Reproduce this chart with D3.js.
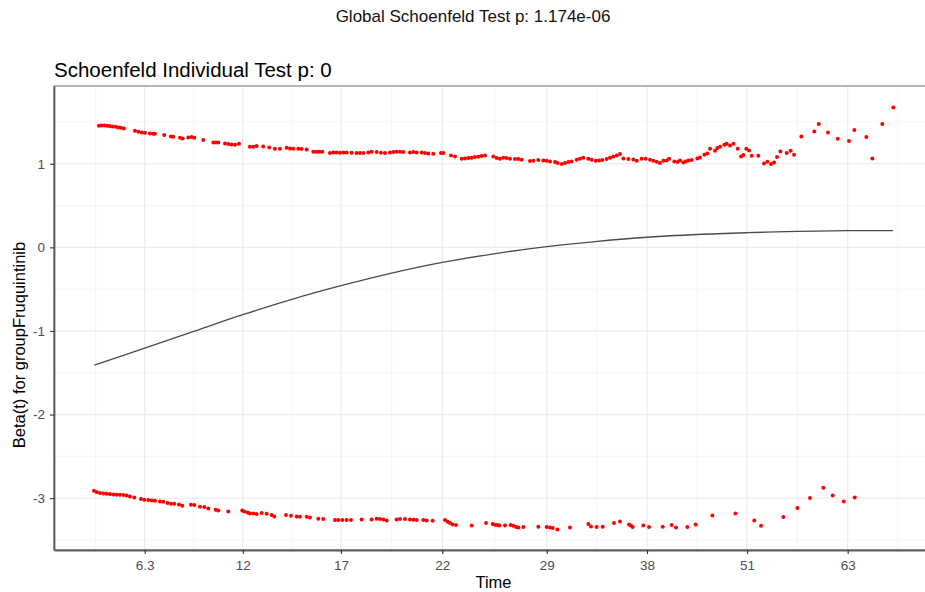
<!DOCTYPE html>
<html>
<head>
<meta charset="utf-8">
<script src="https://cdn.jsdelivr.net/npm/d3@7"></script>
<style>
  body { margin: 0; background: #fff; }
  svg { display: block; font-family: "Liberation Sans", Arial, sans-serif; }
  .line { fill: none; stroke: #4a4a4a; stroke-width: 1.3; }
</style>
</head>
<body>
<svg width="925" height="592"></svg>
<script>
// x is the transformed time (0..1), ticks carry the original time labels
var xTickVals = [0.0635, 0.1863, 0.3091, 0.4359, 0.5667, 0.6921, 0.8173, 0.9432];
var xTickLabels = ["6.3", "12", "17", "22", "29", "38", "51", "63"];
var yTickVals = [-3, -2, -1, 0, 1];

// smoothed beta(t)
var fitX = [0.0006, 0.0635, 0.1248, 0.1862, 0.2477, 0.3091, 0.3725, 0.4359, 0.5006,
    0.5667, 0.6302, 0.6921, 0.7547, 0.8173, 0.8798, 0.9432, 1.0];
var fitY = [-1.41, -1.205, -1.005, -0.806, -0.622, -0.459, -0.308, -0.18, -0.077,
    0.009, 0.072, 0.121, 0.154, 0.175, 0.19, 0.199, 0.2];

// scaled schoenfeld residuals, upper band
var residUpper = [
    [0.0063,1.4545],[0.0096,1.4585],[0.0129,1.4585],[0.0163,1.4545],[0.0196,1.4506],[0.0229,1.4466],
    [0.0271,1.4426],[0.0305,1.4346],[0.0338,1.4306],[0.0375,1.4226],[0.0513,1.3947],[0.0555,1.3828],
    [0.0597,1.3748],[0.0638,1.3708],[0.0701,1.3628],[0.0743,1.3589],[0.0763,1.3589],[0.088,1.343],
    [0.0964,1.327],[0.0993,1.323],[0.1076,1.311],[0.111,1.303],[0.1181,1.315],[0.1222,1.319],
    [0.1256,1.311],[0.1368,1.283],[0.1494,1.255],[0.1527,1.255],[0.1556,1.255],[0.164,1.243],
    [0.1681,1.235],[0.1723,1.231],[0.1765,1.227],[0.1815,1.239],[0.1952,1.203],[0.1994,1.203],
    [0.2036,1.211],[0.2119,1.207],[0.2194,1.195],[0.2265,1.179],[0.2328,1.179],[0.2411,1.191],
    [0.2453,1.183],[0.2495,1.179],[0.2557,1.179],[0.2599,1.175],[0.2662,1.171],[0.2745,1.144],
    [0.2787,1.144],[0.282,1.144],[0.2858,1.144],[0.2954,1.128],[0.2995,1.136],[0.3037,1.136],
    [0.3079,1.132],[0.3121,1.136],[0.3162,1.136],[0.3225,1.132],[0.3287,1.128],[0.3329,1.128],
    [0.3371,1.128],[0.3433,1.136],[0.3475,1.144],
    [0.3538,1.1396],[0.3592,1.1316],[0.3642,1.1276],[0.3705,1.1356],[0.3746,1.1396],[0.3788,1.1435],
    [0.383,1.1435],[0.3872,1.1396],[0.3955,1.1356],[0.3997,1.1396],[0.4038,1.1356],[0.4101,1.1356],
    [0.4143,1.1276],[0.4184,1.1236],[0.4247,1.1196],[0.4343,1.1276],[0.4372,1.1276],[0.4468,1.0997],
    [0.4518,1.0877],[0.4602,1.0598],[0.4643,1.0638],[0.4685,1.0678],[0.4727,1.0718],[0.4768,1.0798],
    [0.481,1.0837],[0.4852,1.0917],[0.4894,1.0997],[0.4998,1.0877],[0.504,1.0678],[0.5081,1.0598],
    [0.5123,1.0718],[0.5165,1.0678],[0.5207,1.0598],[0.5269,1.0558],[0.5311,1.0558],[0.5353,1.0478],
    [0.5457,1.0319],[0.5499,1.0359],[0.5561,1.0439],[0.5624,1.0399],[0.5665,1.0359],[0.5707,1.0279],
    [0.577,1.0199],[0.5803,1.008],[0.5853,0.996],[0.5895,1.008],[0.5937,1.0199],[0.5978,1.0279],
    [0.6041,1.0478],[0.6083,1.0598],[0.6124,1.0718],[0.6187,1.0598],[0.6229,1.0478],[0.6279,1.0359],
    [0.632,1.0399],[0.6362,1.0439],[0.6416,1.0558],[0.6458,1.0718],[0.65,1.0877],[0.6542,1.0997],
    [0.6583,1.1156],[0.6625,1.0638],[0.6688,1.0558],[0.675,1.0518],[0.6792,1.0359],[0.6854,1.0598],
    [0.6904,1.0598],[0.6959,1.0478],[0.7,1.0359],[0.7042,1.0239],[0.7084,1.008],[0.7126,1.0359],
    [0.7167,1.0399],[0.7197,1.0598],[0.7263,1.0279],[0.7305,1.0199],[0.7334,1.0399],[0.7376,1.0159],
    [0.7405,1.0279],[0.7438,1.0399],[0.748,1.0439],[0.7551,1.0638],[0.7584,1.0757],[0.7639,1.1077],
    [0.7676,1.1236],[0.771,1.1794],[0.7772,1.1555],[0.7801,1.1874],[0.7835,1.2033],[0.7889,1.2273],
    [0.7918,1.2392],[0.796,1.2193],[0.8002,1.2392],[0.8056,1.1794],[0.8098,1.0877],[0.8127,1.1037],
    [0.8164,1.1794],[0.8198,1.1595],[0.8231,1.0957],[0.8314,1.0957],[0.8385,1.004],[0.8427,1.0239],
    [0.8473,0.996],[0.8511,1.0159],[0.8548,1.0797],[0.859,1.1475],[0.8669,1.1276],[0.8719,1.1555],
    [0.8761,1.1077],[0.8853,1.327],[0.9015,1.3868],[0.907,1.4745],[0.9186,1.3748],[0.9308,1.299],
    [0.9449,1.2711],[0.9516,1.4027],[0.9666,1.319],[0.9741,1.0638],[0.9866,1.4745],[1.0004,1.6738]
];

// lower band
var residLower = [
    [0.0,-2.9115],[0.0033,-2.9274],[0.0075,-2.9394],[0.0117,-2.9434],[0.0159,-2.9474],[0.02,-2.9513],
    [0.0242,-2.9553],[0.0284,-2.9593],[0.0325,-2.9593],[0.0367,-2.9633],[0.0409,-2.9673],[0.0451,-2.9793],
    [0.0505,-2.9912],[0.0588,-3.0112],[0.063,-3.0191],[0.068,-3.0231],[0.0722,-3.0271],[0.0763,-3.0311],
    [0.0826,-3.0391],[0.0868,-3.0431],[0.0922,-3.059],[0.0964,-3.067],[0.1005,-3.067],[0.1064,-3.075],
    [0.1106,-3.0909],[0.1214,-3.079],[0.1256,-3.083],[0.1327,-3.1029],[0.1381,-3.1069],[0.1431,-3.1228],
    [0.1523,-3.1388],[0.1556,-3.1467],[0.1681,-3.1587],[0.1856,-3.1467],[0.1882,-3.1587],[0.1923,-3.1707],
    [0.1952,-3.1826],[0.1994,-3.1826],[0.2036,-3.1906],[0.2099,-3.1786],[0.2161,-3.1866],[0.2224,-3.2025],
    [0.2257,-3.2185],[0.2403,-3.2025],[0.2466,-3.2105],[0.2537,-3.2185],[0.2578,-3.2225],[0.2662,-3.2225],
    [0.2703,-3.2305],[0.2808,-3.2464],[0.287,-3.2504],[0.3016,-3.2624],[0.3058,-3.2624],[0.3108,-3.2624],
    [0.3162,-3.2624],[0.3217,-3.2624],[0.335,-3.2544],[0.3475,-3.2544],[0.3538,-3.2464],[0.358,-3.2504],
    [0.3621,-3.2544],[0.3663,-3.2664],[0.3788,-3.2544],[0.383,-3.2504],[0.3892,-3.2504],[0.3955,-3.2544],
    [0.3997,-3.2584],[0.4038,-3.2624],[0.4122,-3.2624],[0.4164,-3.2664],[0.4239,-3.2703],[0.4393,-3.2624],
    [0.4426,-3.2823],[0.4456,-3.2982],[0.4489,-3.3142],[0.4531,-3.3222],[0.4727,-3.3262],
    [0.4906,-3.2982],[0.499,-3.3102],[0.5019,-3.3182],[0.5048,-3.3222],[0.5073,-3.3262],[0.5144,-3.3262],
    [0.5215,-3.3222],[0.5248,-3.3301],[0.5282,-3.3461],[0.5311,-3.3501],[0.5373,-3.3461],[0.5561,-3.3421],
    [0.5665,-3.3461],[0.5707,-3.3501],[0.5741,-3.358],[0.5799,-3.374],[0.5957,-3.3501],[0.6187,-3.3102],
    [0.622,-3.3381],[0.6291,-3.3461],[0.6366,-3.3421],[0.6508,-3.2982],[0.6583,-3.2783],[0.6696,-3.3142],
    [0.6717,-3.3262],[0.6742,-3.3461],[0.6875,-3.3262],[0.6946,-3.3461],[0.7117,-3.3421],[0.723,-3.3222],
    [0.7284,-3.3501],[0.7426,-3.3461],[0.753,-3.3142],[0.7739,-3.2066],[0.8027,-3.1826],[0.8264,-3.2664],
    [0.8348,-3.3301],[0.8627,-3.2265],[0.8803,-3.1188],[0.8961,-2.9992],[0.9128,-2.8756],[0.9245,-2.9673],
    [0.9383,-3.0391],[0.952,-2.9912]
];

var svg = d3.select("svg"),
    margin = {top: 86, right: -8, bottom: 42, left: 54},
    width = +svg.attr("width") - margin.left - margin.right,
    height = +svg.attr("height") - margin.top - margin.bottom;

svg.append("text")
    .attr("x", 473)
    .attr("y", 22)
    .attr("text-anchor", "middle")
    .attr("font-size", 17)
    .attr("fill", "#111")
    .text("Global Schoenfeld Test p: 1.174e-06");

svg.append("text")
    .attr("x", margin.left)
    .attr("y", 77)
    .attr("font-size", 20.5)
    .attr("fill", "#000")
    .text("Schoenfeld Individual Test p: 0");

var g = svg.append("g").attr("transform", "translate(" + margin.left + "," + margin.top + ")");

var x = d3.scaleLinear()
    .domain([-0.05, 1.05])
    .range([0, width]);

var y = d3.scaleLinear()
    .domain([-3.62, 1.93])
    .range([height, 0]);

// minor breaks sit halfway between major breaks, one extra at each end
var xMinor = [];
xTickVals.forEach(function (d, i) {
    if (i === 0) xMinor.push(d - (xTickVals[1] - d) / 2);
    if (i < xTickVals.length - 1) xMinor.push((d + xTickVals[i + 1]) / 2);
    else xMinor.push(d + (d - xTickVals[i - 1]) / 2);
});
var yMinor = [-3.5, -2.5, -1.5, -0.5, 0.5, 1.5];

g.selectAll(".xminor").data(xMinor).enter().append("line")
    .attr("x1", function (d) { return x(d); }).attr("x2", function (d) { return x(d); })
    .attr("y1", 0).attr("y2", height)
    .attr("stroke", "#f4f4f4").attr("stroke-width", 0.8);
g.selectAll(".yminor").data(yMinor).enter().append("line")
    .attr("y1", function (d) { return y(d); }).attr("y2", function (d) { return y(d); })
    .attr("x1", 0).attr("x2", width)
    .attr("stroke", "#f4f4f4").attr("stroke-width", 0.8);
g.selectAll(".xmajor").data(xTickVals).enter().append("line")
    .attr("x1", function (d) { return x(d); }).attr("x2", function (d) { return x(d); })
    .attr("y1", 0).attr("y2", height)
    .attr("stroke", "#ebebeb").attr("stroke-width", 1.2);
g.selectAll(".ymajor").data(yTickVals).enter().append("line")
    .attr("y1", function (d) { return y(d); }).attr("y2", function (d) { return y(d); })
    .attr("x1", 0).attr("x2", width)
    .attr("stroke", "#ebebeb").attr("stroke-width", 1.2);

g.append("rect")
    .attr("width", width)
    .attr("height", height)
    .attr("fill", "none")
    .attr("stroke", "#8f8f8f")
    .attr("stroke-width", 1.3);

var line = d3.line()
    .curve(d3.curveCatmullRom)
    .x(function (d, i) { return x(fitX[i]); })
    .y(function (d) { return y(d); });

g.append("path")
    .datum(fitY)
    .attr("class", "line")
    .attr("d", line);

g.selectAll(".pt")
    .data(residUpper.concat(residLower))
    .enter().append("circle")
    .attr("cx", function (d) { return x(d[0]); })
    .attr("cy", function (d) { return y(d[1]); })
    .attr("r", 2)
    .attr("fill", "#ff0000");

var xAxis = g.append("g")
    .attr("transform", "translate(0," + height + ")")
    .call(d3.axisBottom(x).tickValues(xTickVals)
        .tickFormat(function (d, i) { return xTickLabels[i]; })
        .tickSize(4).tickSizeOuter(0).tickPadding(6));
xAxis.select(".domain").attr("stroke", "#5c5c5c").attr("stroke-width", 1.8);

var yAxis = g.append("g")
    .call(d3.axisLeft(y).tickValues(yTickVals)
        .tickFormat(function (d) { return String(d); })
        .tickSize(4).tickSizeOuter(0).tickPadding(5));
yAxis.select(".domain").attr("stroke", "#5c5c5c").attr("stroke-width", 1.8);

g.selectAll(".tick line").attr("stroke", "#333").attr("stroke-width", 1.1);
g.selectAll(".tick text")
    .attr("fill", "#4d4d4d")
    .attr("font-size", 13.5)
    .attr("font-family", "Liberation Sans, Arial, sans-serif");

svg.append("text")
    .attr("x", margin.left + x(0.5))
    .attr("y", 588)
    .attr("text-anchor", "middle")
    .attr("font-size", 16.5)
    .text("Time");

svg.append("text")
    .attr("transform", "translate(25,345) rotate(-90)")
    .attr("text-anchor", "middle")
    .attr("font-size", 16.5)
    .text("Beta(t) for groupFruquintinib");
</script>
</body>
</html>
